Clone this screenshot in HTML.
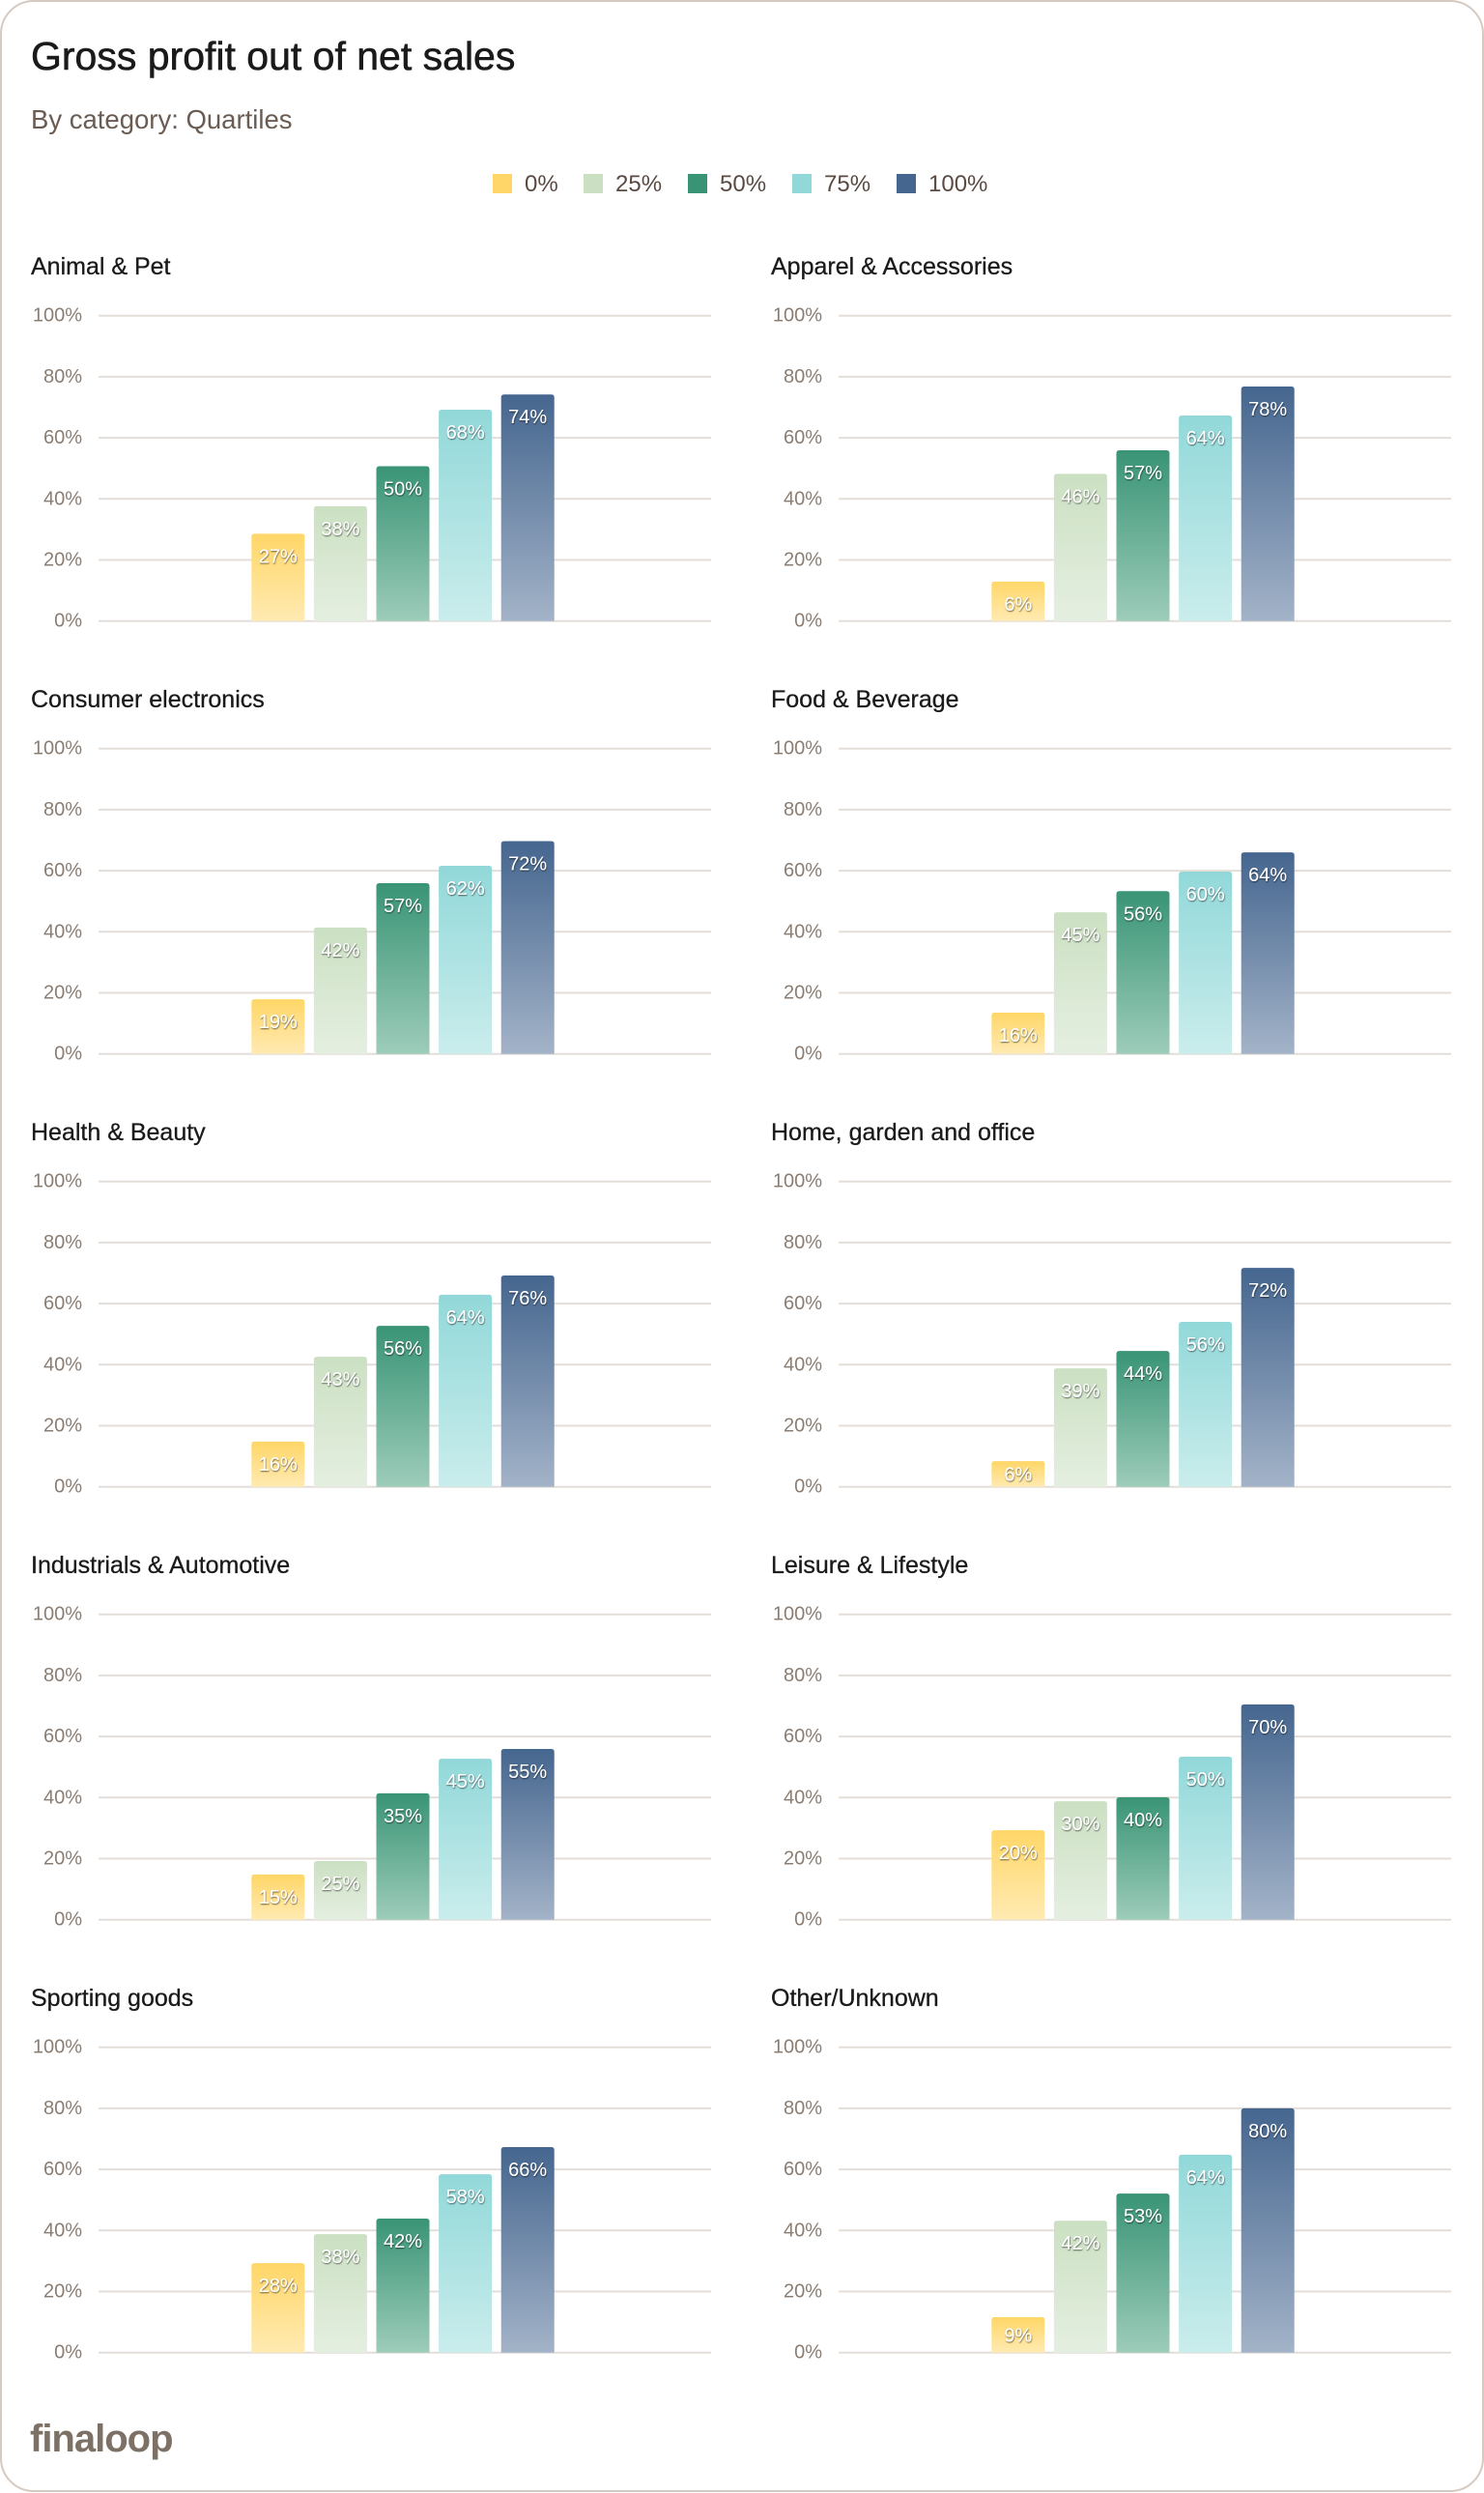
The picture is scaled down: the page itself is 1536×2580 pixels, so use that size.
<!DOCTYPE html>
<html><head><meta charset="utf-8">
<style>
html,body{margin:0;padding:0;background:#fff;}
body{width:1536px;height:2580px;overflow:hidden;font-family:"Liberation Sans",Arial,sans-serif;}
svg{display:block;}
</style></head>
<body>
<svg id="chart" width="1536" height="2580" viewBox="0 0 1536 2580" xmlns="http://www.w3.org/2000/svg">
<defs>
 <linearGradient id="g0" x1="0" y1="0" x2="0" y2="1"><stop offset="0" stop-color="#ffd667"/><stop offset="1" stop-color="#ffeab2"/></linearGradient>
 <linearGradient id="g1" x1="0" y1="0" x2="0" y2="1"><stop offset="0" stop-color="#cbe0c2"/><stop offset="1" stop-color="#e5efe1"/></linearGradient>
 <linearGradient id="g2" x1="0" y1="0" x2="0" y2="1"><stop offset="0" stop-color="#399475"/><stop offset="1" stop-color="#9dccba"/></linearGradient>
 <linearGradient id="g3" x1="0" y1="0" x2="0" y2="1"><stop offset="0" stop-color="#92d8d9"/><stop offset="1" stop-color="#caedec"/></linearGradient>
 <linearGradient id="g4" x1="0" y1="0" x2="0" y2="1"><stop offset="0" stop-color="#45668f"/><stop offset="1" stop-color="#a3b3c8"/></linearGradient>
 <filter id="ts" x="-20%" y="-20%" width="140%" height="140%"><feDropShadow dx="0.5" dy="1" stdDeviation="0.8" flood-color="#000" flood-opacity="0.6"/></filter>
</defs>
<rect x="1" y="1" width="1534" height="2577" rx="34" fill="#fff" stroke="#d4cac1" stroke-width="2"/>
<text x="32" y="72" font-size="41" fill="#1a1a1a" stroke="#1a1a1a" stroke-width="0.6">Gross profit out of net sales</text>
<text x="32" y="133" font-size="27.5" fill="#6a5c53">By category: Quartiles</text>
<g id="legend"></g>
<g id="panels"></g>
<text x="31" y="2537" font-size="40" font-weight="bold" fill="#7d7065" letter-spacing="-1">finaloop</text>
</svg>
<script>
const categories = ["Animal & Pet","Apparel & Accessories","Consumer electronics","Food & Beverage","Health & Beauty","Home, garden and office","Industrials & Automotive","Leisure & Lifestyle","Sporting goods","Other/Unknown"];
const seriesNames = ["0%","25%","50%","75%","100%"];
const tickLabels = ["0%","20%","40%","60%","80%","100%"];
const tickValues = [0,20,40,60,80,100];
// bar heights as drawn (percent)
const q0 = [28.6,12.9,17.9,13.5,14.8,8.4,14.8,29.3,29.3,11.6];
const q25 = [37.6,48.2,41.4,46.4,42.6,38.8,19.2,38.8,38.8,43.2];
const q50 = [50.7,55.9,55.9,53.3,52.7,44.5,41.4,40.1,43.9,52.1];
const q75 = [69.2,67.3,61.6,59.7,62.9,54.0,52.7,53.4,58.4,64.8];
const q100 = [74.2,76.8,69.7,66.0,69.2,71.7,55.9,70.5,67.3,80.0];
// printed value labels
const l0 = [27,6,19,16,16,6,15,20,28,9];
const l25 = [38,46,42,45,43,39,25,30,38,42];
const l50 = [50,57,57,56,56,44,35,40,42,53];
const l75 = [68,64,62,60,64,56,45,50,58,64];
const l100 = [74,78,72,64,76,72,55,70,66,80];

const NS="http://www.w3.org/2000/svg";
function mk(tag,attrs,parent,text){const e=document.createElementNS(NS,tag);for(const k in attrs)e.setAttribute(k,attrs[k]);if(text!==undefined)e.textContent=text;parent.appendChild(e);return e;}
const legendColors=["#ffd667","#cbe0c2","#399475","#92d8d9","#45668f"];
const legendSq=[510,604,712,820,928];
const lg=document.getElementById('legend');
seriesNames.forEach((s,i)=>{
  const r=mk('rect',{x:legendSq[i],y:180,width:20,height:20,fill:legendColors[i]},lg);
  
  
  const t=mk('text',{x:legendSq[i]+33,y:198,'font-size':24,fill:'#5a4a42'},lg,s);
  
  
});
const series=[q0,q25,q50,q75,q100];
const labels=[l0,l25,l50,l75,l100];
const panels=document.getElementById('panels');
const PH=316, BW=55, PITCH=64.6;
categories.forEach((cat,ci)=>{
  const col=ci%2,row=Math.floor(ci/2);
  const ox=col*766, base=642.7+row*448;
  const x0=102+ox, x1=736+ox;
  const yS=v=>base-v/100*PH;
  const g=mk('g',{},panels);
  
  
  const tt=mk('text',{x:32+ox,y:284+row*448,'font-size':25,fill:'#1a1a1a',stroke:'#1a1a1a','stroke-width':0.3},g,cat);
  
  
  tickValues.forEach((v,ti)=>{
    const y=yS(v);
    const l=mk('line',{x1:x0,x2:x1,y1:y,y2:y,stroke:'#e3ded9','stroke-width':2},g);
    
    
    const t=mk('text',{x:85+ox,y:y+6,'font-size':20,fill:'#8b7d72','text-anchor':'end'},g,tickLabels[ti]);
    
    
  });
  const cx=(x0+x1)/2-2, gw=4*PITCH+BW, start=cx-gw/2;
  series.forEach((s,si)=>{
    const v=s[ci], top=yS(v), bx=start+si*PITCH;
    const h=base-top;
    const b=mk('path',{d:`M${bx},${base}V${top+3}Q${bx},${top} ${bx+3},${top}H${bx+BW-3}Q${bx+BW},${top} ${bx+BW},${top+3}V${base}Z`,fill:`url(#g${si})`},g);
    
    
    const ly = h<40 ? base-h/2+7 : top+30;
    const t=mk('text',{x:bx+BW/2,y:ly,'font-size':20,fill:'#fff','text-anchor':'middle',filter:'url(#ts)'},g,labels[si][ci]+'%');
    
    
  });
});
</script>
</body></html>
